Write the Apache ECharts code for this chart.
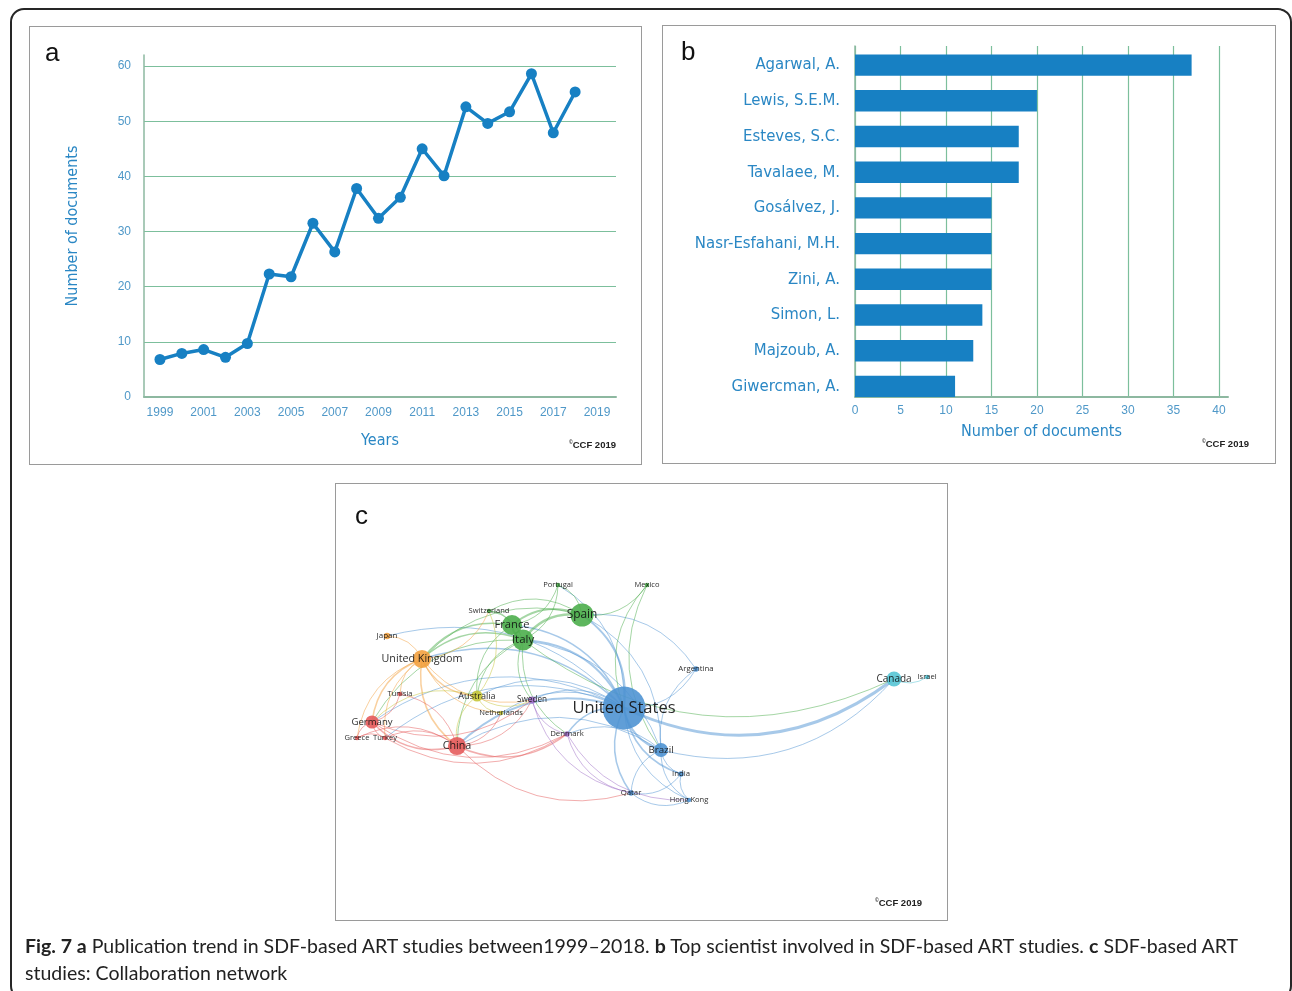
<!DOCTYPE html>
<html>
<head>
<meta charset="utf-8">
<script src="https://cdn.jsdelivr.net/npm/echarts@6/dist/echarts.min.js"></script>
<style>
html,body{margin:0;padding:0;background:#fff;width:1292px;height:991px;overflow:hidden;}
#chart{position:absolute;left:0;top:0;width:1292px;height:991px;}
.frame{position:absolute;box-sizing:border-box;pointer-events:none;}
.letter{position:absolute;font-family:'Liberation Sans',Arial,sans-serif;font-size:26px;line-height:26px;color:#111;}
.ccf{position:absolute;font-family:'Liberation Sans',Arial,sans-serif;font-weight:bold;font-size:9.5px;line-height:9.5px;color:#222;white-space:nowrap;}
.ccf sup{font-size:5px;vertical-align:4px;}
#caption{position:absolute;left:25px;top:932px;font-family:Lato,'Open Sans',sans-serif;font-size:19px;line-height:27px;color:#222;white-space:nowrap;}
</style>
</head>
<body>
<div id="chart"></div>
<div class="frame" style="left:10px;top:8px;width:1282px;height:992px;border:2px solid #262626;border-radius:14px;"></div>
<div class="frame" style="left:29px;top:26px;width:613px;height:439px;border:1px solid #9a9a9a;"></div>
<div class="frame" style="left:662px;top:25px;width:614px;height:439px;border:1px solid #9a9a9a;"></div>
<div class="frame" style="left:335px;top:483px;width:613px;height:438px;border:1px solid #9a9a9a;"></div>
<div class="letter" style="left:45px;top:39px;">a</div>
<div class="letter" style="left:681px;top:38px;">b</div>
<div class="letter" style="left:355px;top:502px;">c</div>
<div class="ccf" style="left:569px;top:438px;"><sup>©</sup>CCF 2019</div>
<div class="ccf" style="left:1202px;top:437px;"><sup>©</sup>CCF 2019</div>
<div class="ccf" style="left:875px;top:896px;"><sup>©</sup>CCF 2019</div>
<div id="caption"><span id="cap1"><b>Fig. 7 a</b> Publication trend in SDF-based ART studies between1999–2018. <b>b</b> Top scientist involved in SDF-based ART studies. <b>c</b> SDF-based ART</span><br>studies: Collaboration network</div>
<script>
// ---------- Panel a: publication trend ----------
const years = [1999,2000,2001,2002,2003,2004,2005,2006,2007,2008,2009,2010,2011,2012,2013,2014,2015,2016,2017,2018];
const docsPerYear = [6.8,7.9,8.6,7.2,9.7,22.3,21.8,31.5,26.3,37.8,32.4,36.2,45.0,40.1,52.6,49.6,51.7,58.6,47.9,55.3];
const yearTicks = [1999,2001,2003,2005,2007,2009,2011,2013,2015,2017,2019];

// ---------- Panel b: top scientists ----------
const authors = ['Agarwal, A.','Lewis, S.E.M.','Esteves, S.C.','Tavalaee, M.','Gosálvez, J.','Nasr-Esfahani, M.H.','Zini, A.','Simon, L.','Majzoub, A.','Giwercman, A.'];
const authorDocs = [37,20,18,18,15,15,15,14,13,11];

// ---------- Panel c: collaboration network ----------
const countries = ['United States','Brazil','India','Hong Kong','Qatar','Argentina','Canada','Israel','Spain','France','Italy','Portugal','Mexico','Switzerland','Japan','United Kingdom','Australia','Netherlands','Sweden','Denmark','Tunisia','Germany','Turkey','Greece','China'];
const countryCluster = [0,0,0,0,0,0,1,1,2,2,2,2,2,2,3,3,4,4,5,5,6,6,6,6,6];
const countryWeight = [180,19,3,2,3,3,22,2,52,39,43,2,2,2,4,32,12,2,5,3,2,17,2,2,32];
// map layout (position in the map)
const countryMapX = [288,325,345,353,295,360,558,591,246,176,187,222,311,153,51,86,141,165,196,231,64,36,49,21,121];
const countryMapY = [224,266,290,316,309,185,195,193,131,141,156,101,101,127,152,175,212,229,216,250,210,238,254,254,262];
const collaborations = [
 ['United States','Canada',3],['United States','Brazil',2],['United States','India',1.5],['United States','Hong Kong',1],
 ['United States','Qatar',1.5],['United States','Argentina',1],['United States','Spain',2],['United States','Italy',2],
 ['United States','France',1.5],['United States','Portugal',1],['United States','United Kingdom',1.5],
 ['United States','Australia',1],['United States','China',2],['United States','Germany',1],['United States','Denmark',1.5],
 ['United States','Sweden',1],['United States','Netherlands',1],['United States','Turkey',1],['United States','Japan',1],
 ['Brazil','India',1],['Brazil','Hong Kong',1],['Brazil','Qatar',1],['Brazil','Canada',1],['Brazil','Italy',1],
 ['Brazil','Spain',1],['Brazil','Denmark',1],['Brazil','China',1],['India','Hong Kong',1],['Qatar','Hong Kong',1],
 ['Qatar','India',1],['Argentina','Spain',1],['Argentina','Brazil',1],['Canada','Israel',1],['Italy','Canada',1],
 ['Spain','Italy',2.5],['Spain','France',2],['Spain','Portugal',1],['Spain','Mexico',1],['Spain','United Kingdom',1],
 ['Spain','Switzerland',1],['France','Italy',2.5],['France','Portugal',1],['Italy','Portugal',1],['Italy','Switzerland',1],
 ['France','Switzerland',1],['France','United Kingdom',1.5],['Italy','United Kingdom',1.5],['Italy','Australia',1],
 ['France','Australia',1],['Italy','Sweden',1],['Italy','Denmark',1],['Italy','China',1],['Italy','Germany',1],
 ['Mexico','United States',1],['Mexico','Brazil',1],
 ['United Kingdom','Japan',1],['United Kingdom','Germany',1.5],['United Kingdom','China',1.5],['United Kingdom','Australia',1.5],
 ['United Kingdom','Tunisia',1],['United Kingdom','Turkey',1],['United Kingdom','Greece',1],['United Kingdom','Switzerland',1],
 ['United Kingdom','Sweden',1],['United Kingdom','Netherlands',1],
 ['Australia','China',1],['Australia','Germany',1],['Australia','Netherlands',1],['Australia','Sweden',1],['Australia','Switzerland',1],
 ['Germany','China',1.5],['Germany','Turkey',1],['Germany','Greece',1],['Germany','Denmark',1],['Germany','Sweden',1],
 ['Germany','Tunisia',1],['China','Denmark',1.5],['China','Sweden',1],['China','Turkey',1],['China','Greece',1],
 ['China','Qatar',1],['China','Tunisia',1],['Turkey','Greece',1],['China','Netherlands',1],['Turkey','Denmark',1],
 ['Sweden','Denmark',1],['Denmark','Qatar',1],['Denmark','Hong Kong',1],['Sweden','Qatar',1]
];

// ---------- styles ----------
const clusterColors = ['#4f93d3','#56c5d5','#4cae4c','#f3a13f','#c8c63a','#a06fc8','#e65b5b'];
const blue = '#1780c3';
const tickColor = '#4f98c8';
const nameColor = '#2a87c4';
const gridGreen = '#7cbf9c';
const axisGreen = '#8db8a0';
const narrow = "'Liberation Sans Narrow','Arial Narrow','DejaVu Sans Condensed','Liberation Sans',sans-serif";
const sans = "'Liberation Sans',Arial,sans-serif";

const chart = echarts.init(document.getElementById('chart'), null, {renderer: 'canvas'});

const nodes = countries.map((name, i) => {
  const w = countryWeight[i];
  return {
    name,
    value: [countryMapX[i], countryMapY[i]],
    symbolSize: 3.2 * Math.sqrt(w),
    itemStyle: {color: clusterColors[countryCluster[i]], opacity: 0.9},
    label: {fontSize: Math.max(7, 6.5 + 0.75 * Math.sqrt(w))}
  };
});
const links = collaborations.map(([s, t, w]) => ({
  source: s, target: t,
  lineStyle: {width: w, color: clusterColors[countryCluster[countries.indexOf(s)]]}
}));

const option = {
  animation: false,
  grid: [
    {left: 144, top: 55, width: 472, height: 342},
    {left: 855, top: 46, width: 373, height: 350.5},
    {left: 336, top: 484, width: 611, height: 436}
  ],
  xAxis: [
    {
      gridIndex: 0, type: 'value', min: 1998.27, max: 2019.87,
      axisLine: {onZero: false, lineStyle: {color: axisGreen, width: 2}},
      axisTick: {show: false}, splitLine: {show: false},
      axisLabel: {customValues: yearTicks, color: tickColor, fontSize: 12, fontFamily: sans, margin: 10,
                  formatter: v => String(Math.round(v))},
      name: 'Years', nameLocation: 'middle', nameGap: 36,
      nameTextStyle: {color: nameColor, fontSize: 16, fontFamily: narrow}
    },
    {
      gridIndex: 1, type: 'value', min: 0, max: 41, interval: 5,
      axisLine: {onZero: false, lineStyle: {color: axisGreen, width: 2}},
      axisTick: {show: false},
      splitLine: {show: true, showMaxLine: false, lineStyle: {color: gridGreen, width: 1.2}},
      axisLabel: {color: tickColor, fontSize: 12, fontFamily: sans, margin: 8, showMaxLabel: false},
      name: 'Number of documents', nameLocation: 'middle', nameGap: 27,
      nameTextStyle: {color: nameColor, fontSize: 16, fontFamily: narrow}
    },
    {gridIndex: 2, type: 'value', min: 0, max: 611, show: false}
  ],
  yAxis: [
    {
      gridIndex: 0, type: 'value', min: 0, max: 62, interval: 10,
      axisLine: {show: true, onZero: false, lineStyle: {color: axisGreen, width: 1.5}},
      axisTick: {show: false},
      splitLine: {show: true, showMaxLine: false, lineStyle: {color: gridGreen, width: 1.2}},
      axisLabel: {color: tickColor, fontSize: 12, fontFamily: sans, margin: 13, showMaxLabel: false},
      name: 'Number of documents', nameLocation: 'middle', nameGap: 63, nameRotate: 90,
      nameTextStyle: {color: nameColor, fontSize: 16, fontFamily: narrow}
    },
    {
      gridIndex: 1, type: 'value', min: -0.283, max: 9.535,
      axisLine: {show: true, onZero: false, lineStyle: {color: axisGreen, width: 1.5}},
      axisTick: {show: false}, splitLine: {show: false},
      axisLabel: {customValues: [0,1,2,3,4,5,6,7,8,9], color: nameColor, fontSize: 16.6, fontFamily: narrow, margin: 15,
                  padding: [7, 0, 0, 0],
                  formatter: v => authors[authors.length - 1 - Math.round(v)]}
    },
    {gridIndex: 2, type: 'value', min: 0, max: 436, inverse: true, show: false}
  ],
  series: [
    {
      type: 'line', xAxisIndex: 0, yAxisIndex: 0,
      data: years.map((y, i) => [y, docsPerYear[i]]),
      symbol: 'circle', symbolSize: 11, showSymbol: true,
      lineStyle: {color: blue, width: 3.5}, itemStyle: {color: blue}, z: 5
    },
    {
      type: 'custom', xAxisIndex: 1, yAxisIndex: 1,
      data: authorDocs.map((v, i) => [v, authors.length - 1 - i]),
      encode: {x: 0, y: 1},
      renderItem: (params, api) => {
        const v = api.value(0), y = api.value(1);
        const p0 = api.coord([0, y]);
        const p1 = api.coord([v, y]);
        const h = api.size([0, 1])[1] * 0.6;
        return {type: 'rect', shape: {x: p0[0], y: p0[1] - h / 2, width: p1[0] - p0[0], height: h},
                style: {fill: blue}};
      },
      z: 5
    },
    {
      type: 'graph', coordinateSystem: 'cartesian2d', xAxisIndex: 2, yAxisIndex: 2,
      data: nodes, links: links,
      lineStyle: {opacity: 0.5, curveness: -0.3},
      label: {show: true, position: 'inside', color: '#111', fontFamily: "'Open Sans','Noto Sans',sans-serif"},
      emphasis: {disabled: true}
    }
  ]
};
chart.setOption(option);

// fit caption's first line to the figure width
function fitCaption() {
  const cap = document.getElementById('caption');
  const w = document.getElementById('cap1').getBoundingClientRect().width;
  const target = 1213;
  const fs = parseFloat(getComputedStyle(cap).fontSize);
  cap.style.fontSize = (fs * target / w).toFixed(2) + 'px';
}
if (document.fonts && document.fonts.ready) { document.fonts.ready.then(fitCaption); } else { fitCaption(); }
</script>
</body>
</html>
